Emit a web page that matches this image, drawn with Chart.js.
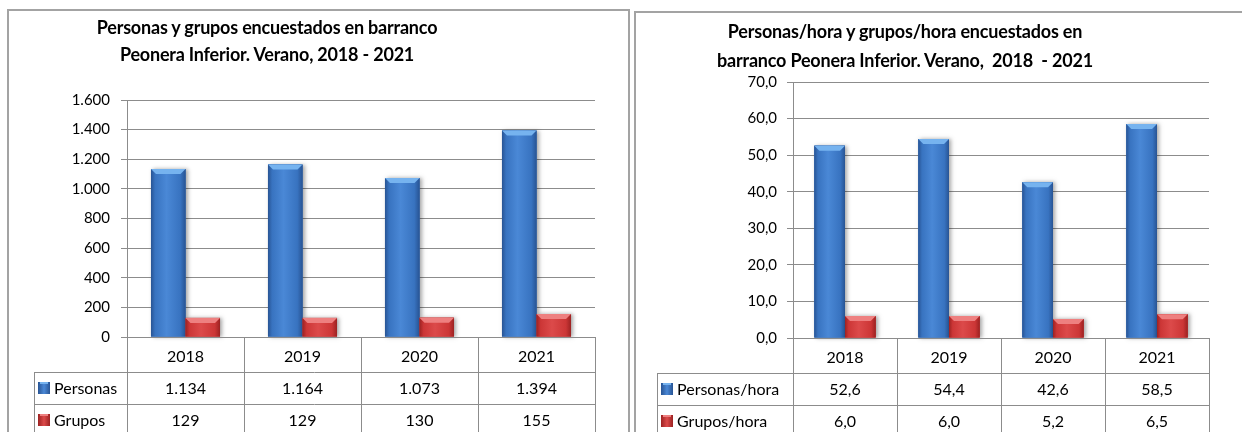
<!DOCTYPE html>
<html>
<head>
<meta charset="utf-8">
<script src="https://cdn.jsdelivr.net/npm/chart.js@4.4.1/dist/chart.umd.min.js"></script>
<style>
  body { margin: 0; background: #fff; width: 1242px; height: 432px; overflow: hidden; position: relative; font-family: Lato, sans-serif; }
  .frame { position: absolute; border: 2px solid #a3a3a3; box-sizing: border-box; }
  .wrap { position: absolute; top: 0; height: 432px; }
  .title { position: absolute; text-align: center; font-weight: bold; font-size: 18px; color: #000; white-space: pre; letter-spacing: -0.2px; }
</style>
</head>
<body>
<div class="frame" style="left:7px; top:9px; width:623px; height:440px;"></div>
<div class="frame" style="left:634px; top:11px; width:640px; height:440px;"></div>
<div class="wrap" style="left:0; width:632px;"><canvas id="chartLeft"></canvas></div>
<div class="wrap" style="left:632px; width:610px;"><canvas id="chartRight"></canvas></div>
<div class="title" style="left:67px; width:400px; top:14px; line-height:27px;">Personas y grupos encuestados en barranco
Peonera Inferior. Verano, 2018 - 2021</div>
<div class="title" style="left:705px; width:400px; top:17px; line-height:29px;">Personas/hora y grupos/hora encuestados en
barranco Peonera Inferior. Verano,  2018  - 2021</div>
<script>
const years = ["2018", "2019", "2020", "2021"];

const personas = [1134, 1164, 1073, 1394];
const grupos = [129, 129, 130, 155];
const leftTicks = ["0", "200", "400", "600", "800", "1.000", "1.200", "1.400", "1.600"];

const personasHora = [52.6, 54.4, 42.6, 58.5];
const gruposHora = [6.0, 6.0, 5.2, 6.5];
const rightTicks = ["0,0", "10,0", "20,0", "30,0", "40,0", "50,0", "60,0", "70,0"];

const palette = [
  { base: "#3873c0", light: "#4a88d6", dark: "#285494", top: "#76b3ef" },
  { base: "#cc3636", light: "#dc4a4a", dark: "#9c2222", top: "#ee8080" }
];
const gridColor = "#8c8c8c";
const fontFamily = "Lato, sans-serif";

const fmtMiles = v => String(v).replace(/\B(?=(\d{3})+(?!\d))/g, ".");
const fmtDec = v => v.toFixed(1).replace(".", ",");

function drawBar(ctx, l, top, w, h, c) {
  const r = l + w;
  ctx.save();
  ctx.shadowColor = "rgba(0,0,0,0.35)";
  ctx.shadowBlur = 4;
  ctx.shadowOffsetX = 2;
  ctx.fillStyle = c.base;
  ctx.fillRect(l, top, w, h);
  ctx.restore();
  const g = ctx.createLinearGradient(l, 0, r, 0);
  g.addColorStop(0, c.dark);
  g.addColorStop(0.12, c.base);
  g.addColorStop(0.45, c.light);
  g.addColorStop(0.85, c.base);
  g.addColorStop(1, c.dark);
  ctx.fillStyle = g;
  ctx.fillRect(l, top, w, h);
  const b = Math.min(5, h / 3);
  ctx.fillStyle = c.top;
  ctx.beginPath();
  ctx.moveTo(l, top);
  ctx.lineTo(r, top);
  ctx.lineTo(r - b, top + b);
  ctx.lineTo(l + b, top + b);
  ctx.closePath();
  ctx.fill();
}

const barLook = {
  id: "barLook",
  afterDatasetsDraw(chart) {
    const ctx = chart.ctx;
    chart.data.datasets.forEach((ds, di) => {
      chart.getDatasetMeta(di).data.forEach(bar => {
        const p = bar.getProps(["x", "y", "base", "width"], true);
        drawBar(ctx, p.x - p.width / 2, p.y, p.width, p.base - p.y, palette[di]);
      });
    });
  }
};

// data table under the plot, built from the x scale
function tablePlugin(labelLeftOffset, formatter) {
  return {
    id: "dataTable",
    afterDraw(chart) {
      const ctx = chart.ctx;
      const area = chart.chartArea;
      const xs = chart.scales.x;
      const step = (area.right - area.left) / years.length;
      const y0 = area.bottom, y1 = y0 + 35, y2 = y1 + 32, y3 = y2 + 32;
      const lx = area.left - labelLeftOffset;
      ctx.save();
      ctx.strokeStyle = gridColor;
      ctx.lineWidth = 1;
      ctx.beginPath();
      ctx.moveTo(area.left, y0 + 0.5); ctx.lineTo(area.right, y0 + 0.5);
      ctx.moveTo(lx, y1 + 0.5); ctx.lineTo(area.right, y1 + 0.5);
      ctx.moveTo(lx, y2 + 0.5); ctx.lineTo(area.right, y2 + 0.5);
      ctx.moveTo(lx, y3 + 0.5); ctx.lineTo(area.right, y3 + 0.5);
      ctx.moveTo(lx + 0.5, y1); ctx.lineTo(lx + 0.5, y3);
      for (let i = 0; i <= years.length; i++) {
        const vx = Math.round(area.left + i * step) + 0.5;
        ctx.moveTo(vx, y0); ctx.lineTo(vx, y3);
      }
      ctx.stroke();

      ctx.fillStyle = "#000";
      ctx.font = "16px " + fontFamily;
      ctx.textAlign = "center";
      ctx.textBaseline = "middle";
      years.forEach((yr, i) => {
        const cx = xs.getPixelForValue(i);
        ctx.fillText(yr, cx, (y0 + y1) / 2 + 2);
        chart.data.datasets.forEach((ds, di) => {
          const cy = di === 0 ? (y1 + y2) / 2 + 1 : (y2 + y3) / 2 + 1;
          ctx.fillText(formatter(ds.data[i]), cx, cy);
        });
      });
      ctx.textAlign = "left";
      chart.data.datasets.forEach((ds, di) => {
        const cy = di === 0 ? (y1 + y2) / 2 + 1 : (y2 + y3) / 2 + 1;
        const c = palette[di];
        const g = ctx.createLinearGradient(lx + 4, 0, lx + 16, 0);
        g.addColorStop(0, c.dark); g.addColorStop(0.5, c.light); g.addColorStop(1, c.dark);
        ctx.fillStyle = g;
        ctx.fillRect(lx + 4, cy - 7, 12, 12);
        ctx.fillStyle = c.top;
        ctx.fillRect(lx + 6, cy - 7, 8, 2);
        ctx.fillStyle = "#000";
        ctx.fillText(ds.label, lx + 20, cy);
      });
      ctx.restore();
    }
  };
}

function makeChart(id, series, labels, maxV, stepV, ticks, pad, yWidth, tickPad, labelOffset, fmt) {
  return new Chart(document.getElementById(id), {
    type: "bar",
    data: {
      labels: years,
      datasets: series.map((s, i) => ({
        label: labels[i],
        data: s,
        backgroundColor: palette[i].base,
        borderWidth: 0,
        categoryPercentage: 0.59,
        barPercentage: 1
      }))
    },
    options: {
      responsive: true,
      maintainAspectRatio: false,
      animation: false,
      layout: { padding: pad },
      plugins: { legend: { display: false }, title: { display: false }, tooltip: { enabled: false } },
      scales: {
        x: { display: false },
        y: {
          min: 0, max: maxV,
          afterFit: s => { s.width = yWidth; },
          ticks: { stepSize: stepV, padding: tickPad, color: "#000", font: { family: fontFamily, size: 15 }, callback: (v, i) => ticks[i] },
          grid: { color: gridColor, tickLength: 6, drawTicks: true },
          border: { color: gridColor }
        }
      }
    },
    plugins: [barLook, tablePlugin(labelOffset, fmt)]
  });
}

makeChart("chartLeft", [personas, grupos], ["Personas", "Grupos"], 1600, 200, leftTicks,
  { left: 57, right: 37, top: 100, bottom: 95 }, 70, 11, 93, fmtMiles);
makeChart("chartRight", [personasHora, gruposHora], ["Personas/hora", "Grupos/hora"], 70, 10, rightTicks,
  { left: 91, right: 33, top: 82, bottom: 94 }, 70, 10, 136, fmtDec);
</script>
</body>
</html>
